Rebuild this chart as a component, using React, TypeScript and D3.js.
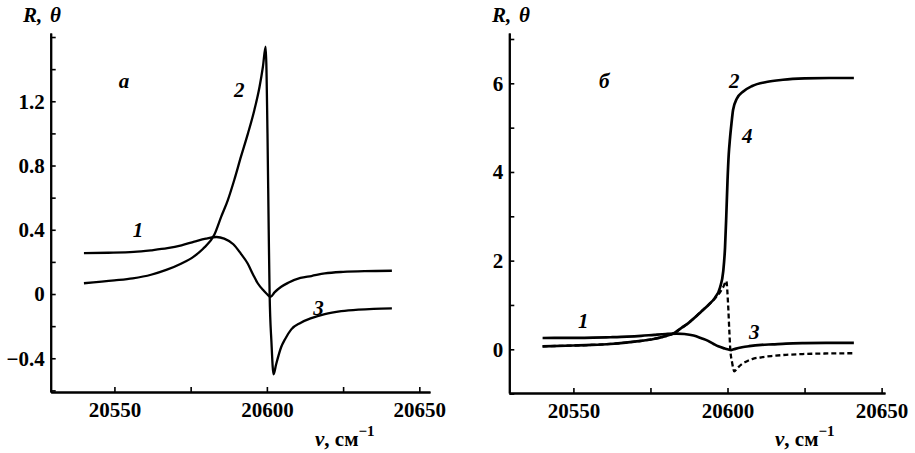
import React, { useRef, useEffect } from 'react';
import * as d3 from 'd3';

type Pt = [number, number];

// curve 1 (R), same in both panels
const curve1: Pt[] = [
  [20540, 0.255], [20548, 0.257], [20556.4, 0.262], [20562, 0.272], [20567.4, 0.285],
  [20572, 0.303], [20576.2, 0.326], [20580, 0.345], [20583.5, 0.355], [20586, 0.345],
  [20589, 0.31], [20591.5, 0.25], [20593.7, 0.19], [20595.5, 0.12], [20597, 0.067],
  [20599, 0.02], [20600, 0.0], [20601.2, -0.017], [20602.5, 0.01], [20604.7, 0.045],
  [20607, 0.07], [20611, 0.1], [20614.6, 0.112], [20619, 0.128], [20625, 0.138],
  [20632, 0.143], [20641, 0.145],
];

// curves 2 / 3 (theta with the jump)
const curve23: Pt[] = [
  [20540, 0.067], [20550, 0.085], [20556, 0.098], [20562, 0.12], [20567, 0.15],
  [20572, 0.19], [20576, 0.233], [20579, 0.28], [20582.8, 0.37], [20585, 0.48],
  [20587.2, 0.585], [20589.3, 0.71], [20591.5, 0.855], [20593.8, 1.0], [20595.9, 1.146],
  [20597.6, 1.29], [20598.7, 1.415], [20599.6, 1.54], [20600.2, 1.0], [20600.6, 0.4],
  [20600.9, 0.0], [20601.5, -0.3], [20602.2, -0.5], [20603, -0.44], [20604.7, -0.33],
  [20606, -0.28], [20608, -0.22], [20611, -0.18], [20614.6, -0.15], [20619, -0.125],
  [20624.4, -0.107], [20630, -0.097], [20635, -0.092], [20641, -0.089],
];

// curve 2 / 4 (unwrapped theta, panel б)
const curve24: Pt[] = [
  [20540, 0.067], [20550, 0.085], [20556, 0.098], [20562, 0.12], [20567, 0.15],
  [20572, 0.19], [20576, 0.233], [20579, 0.28], [20582.8, 0.37], [20585, 0.48],
  [20587.2, 0.585], [20589.3, 0.71], [20591.5, 0.855], [20593.8, 1.0], [20595.9, 1.16],
  [20597.6, 1.4], [20598.6, 1.75], [20599.2, 2.3], [20599.6, 3.0], [20600, 3.8],
  [20600.4, 4.4], [20600.8, 4.75], [20601.3, 5.1], [20601.8, 5.4], [20603, 5.65],
  [20605, 5.81], [20608, 5.94], [20612.6, 6.03], [20618, 6.08], [20625, 6.11],
  [20633, 6.12], [20641, 6.12],
];

const xMajor = [20550, 20600, 20650];
const xMinor = [20575, 20625];
const yMajorA = [-0.4, 0, 0.4, 0.8, 1.2];
const yMinorA = [-0.6, -0.2, 0.2, 0.6, 1.0, 1.4, 1.6];
const yMajorB = [0, 2, 4, 6];
const yMinorB = [-1, 1, 3, 5, 7];

const labelsA = [
  { t: 'а', nu: 20553.1, v: 1.33 },
  { t: '2', nu: 20590.9, v: 1.27 },
  { t: '1', nu: 20557.7, v: 0.4 },
  { t: '3', nu: 20616.9, v: -0.087 },
];
const labelsB = [
  { t: 'б', nu: 20560, v: 6.07 },
  { t: '2', nu: 20602.2, v: 6.07 },
  { t: '4', nu: 20606.4, v: 4.83 },
  { t: '1', nu: 20553.2, v: 0.64 },
  { t: '3', nu: 20608.7, v: 0.39 },
];

const SERIF = "'Liberation Serif', 'DejaVu Serif', serif";

interface PanelCfg {
  xDomain: [number, number];
  xRange: [number, number];
  yDomain: [number, number];
  yRange: [number, number];
  yMajor: number[];
  yMinor: number[];
  fmt: (d: number) => string;
  labels: { t: string; nu: number; v: number }[];
  titleX: number;
  thetaX: number;
  nuX: number;
  solid: Pt[][];
  dashed: Pt[][];
  lw: number;
}

function drawPanel(svg: d3.Selection<SVGSVGElement, unknown, null, undefined>, c: PanelCfg) {
  const g = svg.append('g');
  const x = d3.scaleLinear().domain(c.xDomain).range(c.xRange);
  const y = d3.scaleLinear().domain(c.yDomain).range(c.yRange);
  const y0 = c.yRange[0];
  const x0 = c.xRange[0];

  const styleAxis = (a: d3.Selection<SVGGElement, unknown, null, undefined>) => {
    a.attr('font-size', null).attr('font-family', null);
    a.select('.domain').attr('stroke', '#000').attr('stroke-width', 2);
    a.selectAll('.tick line').attr('stroke', '#000').attr('stroke-width', 1.6);
    a.selectAll('.tick text')
      .attr('fill', '#000')
      .style('font-family', SERIF)
      .style('font-size', '21px')
      .style('font-weight', 'bold');
  };

  // x axis
  g.append('g')
    .attr('transform', `translate(0,${y0})`)
    .call(d3.axisBottom(x).tickValues(xMajor).tickSizeInner(-5).tickSizeOuter(0).tickPadding(10).tickFormat(d3.format('d')))
    .call(styleAxis);
  g.append('g')
    .attr('transform', `translate(0,${y0})`)
    .call(d3.axisBottom(x).tickValues(xMinor).tickSizeInner(-5).tickSizeOuter(0).tickFormat(() => ''))
    .call(styleAxis);

  // y axis
  g.append('g')
    .attr('transform', `translate(${x0},0)`)
    .call(d3.axisLeft(y).tickValues(c.yMajor).tickSizeInner(-5).tickSizeOuter(0).tickPadding(6).tickFormat(d => c.fmt(+d)))
    .call(styleAxis);
  g.append('g')
    .attr('transform', `translate(${x0},0)`)
    .call(d3.axisLeft(y).tickValues(c.yMinor).tickSizeInner(-5).tickSizeOuter(0).tickFormat(() => ''))
    .call(styleAxis);

  const line = d3.line<Pt>()
    .x(d => x(d[0]))
    .y(d => y(d[1]))
    .curve(d3.curveMonotoneX);

  c.dashed.forEach(s => {
    g.append('path')
      .attr('d', line(s))
      .attr('fill', 'none')
      .attr('stroke', '#000')
      .attr('stroke-width', c.lw * 0.85)
      .attr('stroke-dasharray', '5,3');
  });
  c.solid.forEach(s => {
    g.append('path')
      .attr('d', line(s))
      .attr('fill', 'none')
      .attr('stroke', '#000')
      .attr('stroke-width', c.lw)
      .attr('stroke-linejoin', 'round');
  });

  // curve labels
  g.selectAll('text.lbl')
    .data(c.labels)
    .join('text')
    .attr('class', 'lbl')
    .attr('x', d => x(d.nu))
    .attr('y', d => y(d.v))
    .attr('dy', '0.35em')
    .attr('text-anchor', 'middle')
    .style('font-family', SERIF)
    .style('font-style', 'italic')
    .style('font-weight', 'bold')
    .style('font-size', '21px')
    .text(d => d.t);

  // y title
  const yt = g.append('text')
    .attr('y', 22)
    .style('font-family', SERIF)
    .style('font-style', 'italic')
    .style('font-weight', 'bold')
    .style('font-size', '21px');
  yt.append('tspan').attr('x', c.titleX).text('R,');
  yt.append('tspan').attr('x', c.thetaX).text('θ');

  // x title
  const xt = g.append('text')
    .attr('x', c.nuX)
    .attr('y', 446)
    .style('font-family', SERIF)
    .style('font-weight', 'bold')
    .style('font-size', '21px');
  xt.append('tspan').style('font-style', 'italic').text('ν');
  xt.append('tspan').text(', см');
  xt.append('tspan').attr('dy', -10).style('font-size', '15px').text('−1');
}

const App: React.FC = () => {
  const svgRef = useRef<SVGSVGElement | null>(null);

  useEffect(() => {
    document.body.style.margin = '0';
    if (!svgRef.current) return;
    const svg = d3.select(svgRef.current);
    svg.selectAll('*').remove();

    svg.append('rect').attr('width', 915).attr('height', 453).attr('fill', '#fff');

    drawPanel(svg, {
      xDomain: [20529.1, 20653.5],
      xRange: [50.7, 430],
      yDomain: [-0.61, 1.625],
      yRange: [392, 33],
      yMajor: yMajorA,
      yMinor: yMinorA,
      fmt: d => (d === 0 ? '0' : d3.format('.1f')(d)),
      labels: labelsA,
      titleX: 23,
      thetaX: 50,
      nuX: 315,
      solid: [curve1, curve23],
      dashed: [],
      lw: 2.3,
    });

    drawPanel(svg, {
      xDomain: [20529.2, 20651.1],
      xRange: [509.3, 885],
      yDomain: [-0.986, 7.135],
      yRange: [393, 33],
      yMajor: yMajorB,
      yMinor: yMinorB,
      fmt: d => d3.format('d')(d),
      labels: labelsB,
      titleX: 492,
      thetaX: 519,
      nuX: 775,
      solid: [curve1, curve24],
      dashed: [curve23],
      lw: 2.7,
    });
  }, []);

  return <svg ref={svgRef} width={915} height={453} style={{ display: 'block' }} />;
};

export default App;
